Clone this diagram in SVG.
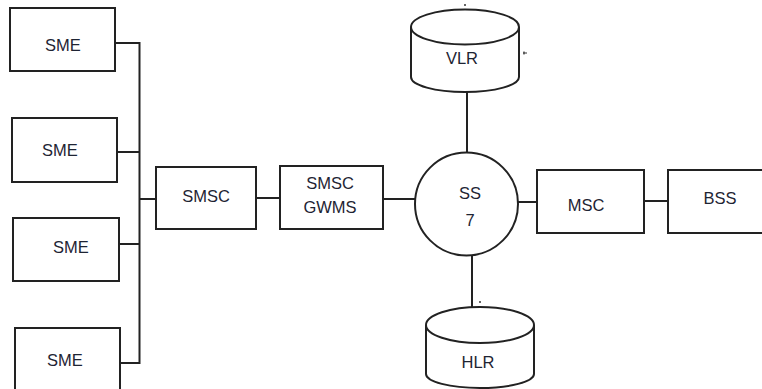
<svg xmlns="http://www.w3.org/2000/svg" width="762" height="389" viewBox="0 0 762 389">
  <style>
    .box { fill: #fff; stroke: #222; stroke-width: 2; }
    .wire { fill: none; stroke: #222; stroke-width: 2; }
    .lbl { font-family: "Liberation Sans", Arial, sans-serif; font-size: 16.5px; fill: #1e2433; text-anchor: middle; dominant-baseline: central; }
  </style>
  <rect width="762" height="389" fill="#fff"/>

  <!-- connectors -->
  <g id="connectors" class="wire">
    <path d="M115 43 H139.5 V363 H120"/>
    <path d="M117 152 H139.5"/>
    <path d="M119 244 H139.5"/>
    <path d="M139.5 199 H156"/>
    <path d="M256 198 H280"/>
    <path d="M383 199 H415"/>
    <path d="M518 202 H537"/>
    <path d="M644 201 H668"/>
    <path d="M467 92 V153"/>
    <path d="M472 255 V307"/>
  </g>

  <g id="sme1">
    <rect class="box" x="10" y="8" width="105" height="63"/>
    <text class="lbl" x="63" y="45">SME</text>
  </g>
  <g id="sme2">
    <rect class="box" x="12" y="118" width="105" height="64"/>
    <text class="lbl" x="60" y="150">SME</text>
  </g>
  <g id="sme3">
    <rect class="box" x="13" y="218" width="106" height="63"/>
    <text class="lbl" x="71" y="247">SME</text>
  </g>
  <g id="sme4">
    <rect class="box" x="15" y="328" width="105" height="70"/>
    <text class="lbl" x="65" y="360">SME</text>
  </g>

  <g id="smsc">
    <rect class="box" x="156" y="167" width="100" height="62"/>
    <text class="lbl" x="206" y="196">SMSC</text>
  </g>
  <g id="smsc-gwms">
    <rect class="box" x="280" y="166" width="103" height="63"/>
    <text class="lbl" x="330" y="183">SMSC</text>
    <text class="lbl" x="330" y="207">GWMS</text>
  </g>

  <g id="ss7">
    <circle class="box" cx="466.5" cy="204" r="51.5"/>
    <text class="lbl" x="470" y="193">SS</text>
    <text class="lbl" x="470" y="220">7</text>
  </g>

  <g id="vlr">
    <path class="box" d="M411 27 V77 A54 15 0 0 0 519 77 V27"/>
    <ellipse class="box" cx="465" cy="27" rx="54" ry="17.5"/>
    <text class="lbl" x="462" y="58">VLR</text>
    <circle cx="465" cy="5" r="1" fill="#333"/>
    <path d="M523 53 H527 M524 51.5 V54.5" stroke="#333" stroke-width="1.2"/>
  </g>

  <g id="hlr">
    <path class="box" d="M426 325 V374 A54 14 0 0 0 534 374 V325"/>
    <ellipse class="box" cx="480" cy="325" rx="54" ry="18"/>
    <text class="lbl" x="478" y="362">HLR</text>
    <circle cx="480" cy="302" r="1" fill="#333"/>
  </g>

  <g id="msc">
    <rect class="box" x="537" y="170" width="107" height="63"/>
    <text class="lbl" x="586" y="205">MSC</text>
  </g>
  <g id="bss">
    <rect class="box" x="668" y="170" width="100" height="63"/>
    <text class="lbl" x="720" y="198">BSS</text>
  </g>
</svg>
